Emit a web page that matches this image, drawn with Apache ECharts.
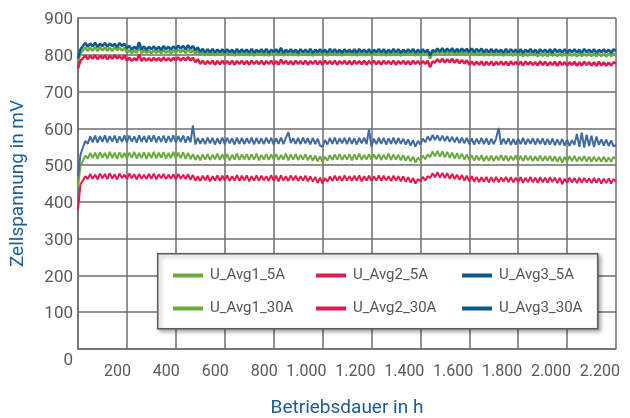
<!DOCTYPE html>
<html>
<head>
<meta charset="utf-8">
<script src="https://cdn.jsdelivr.net/npm/echarts@6/dist/echarts.min.js"></script>
<style>html,body{margin:0;padding:0;background:#fff}#c{width:630px;height:418px}</style>
</head>
<body>
<div id="c"></div>
<script>
const hours = [
0,10,20,30,40,50,60,70,80,90,
100,110,120,130,140,150,160,170,180,190,
200,210,220,230,240,250,260,270,280,290,
300,310,320,330,340,350,360,370,380,390,
400,410,420,430,440,450,460,470,480,490,
500,510,520,530,540,550,560,570,580,590,
600,610,620,630,640,650,660,670,680,690,
700,710,720,730,740,750,760,770,780,790,
800,810,820,830,840,850,860,870,880,890,
900,910,920,930,940,950,960,970,980,990,
1000,1010,1020,1030,1040,1050,1060,1070,1080,1090,
1100,1110,1120,1130,1140,1150,1160,1170,1180,1190,
1200,1210,1220,1230,1240,1250,1260,1270,1280,1290,
1300,1310,1320,1330,1340,1350,1360,1370,1380,1390,
1400,1410,1420,1430,1440,1450,1460,1470,1480,1490,
1500,1510,1520,1530,1540,1550,1560,1570,1580,1590,
1600,1610,1620,1630,1640,1650,1660,1670,1680,1690,
1700,1710,1720,1730,1740,1750,1760,1770,1780,1790,
1800,1810,1820,1830,1840,1850,1860,1870,1880,1890,
1900,1910,1920,1930,1940,1950,1960,1970,1980,1990,
2000,2010,2020,2030,2040,2050,2060,2070,2080,2090,
2100,2110,2120,2130,2140,2150,2160,2170,2180,2190,
2200];

const uAvg1_5A = [
782,804,812,820,810,819,811,821,810,820,
812,820,811,819,810,821,812,820,811,819,
806,813,804,812,805,822,804,813,805,812,
804,813,805,812,804,814,805,812,804,813,
806,814,807,813,805,815,806,813,803,810,
799,807,798,806,799,807,798,806,799,807,
798,806,799,807,797,806,798,807,799,806,
798,807,797,806,799,807,798,806,797,806,
799,807,798,809,797,806,799,807,798,806,
797,806,799,807,798,806,797,807,799,806,
798,806,797,807,799,806,798,807,797,806,
799,807,798,806,797,807,799,806,798,807,
797,806,799,807,798,806,797,807,798,806,
799,806,797,807,798,806,799,807,797,806,
798,806,799,806,790,805,801,809,802,810,
801,809,802,810,800,808,801,809,800,808,
799,807,798,806,799,807,797,806,798,806,
797,806,798,805,797,806,798,805,797,806,
798,805,796,805,797,806,798,805,796,805,
797,805,796,806,797,804,796,805,797,804,
796,805,797,804,795,805,796,804,797,805,
796,804,795,805,796,804,795,803,796,804,
799];

const uAvg2_5A = [
762,784,790,798,788,797,789,799,788,797,
790,798,788,797,789,799,790,797,788,798,
784,792,783,791,784,801,783,792,784,791,
783,792,784,791,783,793,784,791,783,792,
785,793,784,792,785,794,784,792,780,788,
775,784,774,783,775,784,773,783,774,784,
775,783,774,784,773,783,775,784,774,783,
773,784,775,783,774,784,773,783,775,784,
774,783,773,787,775,784,774,783,773,784,
775,783,774,784,773,783,775,784,774,783,
773,784,775,783,774,784,773,783,775,784,
774,783,773,784,775,783,774,784,773,783,
775,784,774,783,773,784,775,783,774,784,
773,783,775,784,774,783,773,784,775,783,
774,783,775,784,766,782,779,788,780,789,
779,788,780,789,778,787,777,786,776,785,
773,782,772,781,773,782,771,781,772,782,
771,781,773,782,772,781,771,782,773,781,
772,781,771,782,773,781,772,780,771,782,
772,781,771,780,772,781,770,781,772,780,
771,780,772,781,770,780,771,781,772,780,
771,780,770,781,771,780,770,779,771,780,
776];

const uAvg3_5A = [
790,815,824,832,822,831,823,833,821,830,
824,832,822,831,823,830,821,832,824,830,
818,824,814,822,815,834,814,823,813,822,
815,823,814,822,813,824,815,822,814,823,
816,825,817,824,815,826,816,824,812,820,
808,816,806,815,807,816,806,814,807,815,
806,815,807,814,805,816,806,815,807,814,
806,816,805,814,807,815,806,816,805,814,
807,815,806,819,805,814,807,815,806,814,
805,815,807,814,806,816,805,814,807,815,
806,814,805,816,807,815,806,814,805,815,
807,814,806,815,805,816,807,814,806,815,
805,814,807,816,806,815,805,814,806,816,
807,815,805,814,806,815,807,816,805,814,
806,815,807,814,798,813,808,817,809,818,
808,817,809,818,807,816,808,817,809,816,
808,817,807,816,808,817,806,815,807,816,
806,815,807,814,805,816,806,815,807,814,
806,815,805,814,807,816,806,814,805,815,
807,814,806,815,805,816,807,814,806,815,
805,814,807,815,806,814,805,816,807,814,
806,815,805,814,807,815,806,814,805,815,
810];

const uAvg1_30A = [
440,498,512,526,518,533,519,534,517,535,
520,533,518,536,519,534,517,535,520,533,
518,534,520,536,518,533,519,535,517,534,
519,536,518,534,520,535,518,533,519,536,
518,534,519,535,517,533,516,530,514,528,
513,529,515,530,514,528,516,531,514,529,
515,530,513,528,515,531,514,529,516,530,
514,529,515,531,513,528,515,530,514,529,
516,530,514,528,515,531,513,529,515,530,
514,528,515,530,513,527,512,526,510,524,
508,523,512,527,514,529,515,530,514,528,
515,530,513,529,515,531,514,528,515,530,
514,529,516,530,514,528,515,531,514,529,
515,528,513,527,512,525,510,523,507,520,
513,526,516,529,522,537,524,539,523,537,
521,536,520,534,518,532,517,531,515,529,
513,527,512,526,513,527,511,525,512,526,
511,525,513,527,512,526,511,525,513,526,
512,525,511,526,513,525,511,524,512,526,
511,524,512,525,510,524,509,523,507,522,
510,524,511,525,510,523,511,524,510,523,
509,523,510,522,509,523,508,521,509,522,
516];

const uAvg2_30A = [
378,448,458,470,462,476,463,474,461,477,
464,476,462,478,463,475,461,477,465,474,
462,477,464,475,461,476,463,474,462,476,
463,477,461,475,464,476,462,474,463,475,
461,476,463,474,462,475,460,473,458,470,
457,471,459,472,456,470,458,472,457,471,
459,472,457,470,458,473,457,471,459,472,
456,470,458,472,457,471,459,470,457,472,
458,471,456,472,458,470,457,472,459,471,
457,470,458,471,456,469,455,468,452,466,
450,465,455,469,457,471,458,470,457,472,
458,470,457,471,458,472,456,470,458,471,
457,470,458,472,457,471,459,470,457,471,
458,470,456,469,455,467,453,465,450,462,
456,468,458,470,465,478,467,481,466,479,
465,478,463,476,462,474,460,473,458,471,
456,470,455,468,454,467,455,468,453,467,
454,468,453,466,455,468,454,467,453,466,
454,467,452,466,454,468,453,466,452,467,
453,466,452,467,454,466,451,465,448,463,
452,466,453,465,451,466,452,465,453,464,
451,465,452,464,450,463,451,464,450,462,
455];

const uAvg3_30A = [
470,528,548,566,558,578,562,580,561,579,
563,581,562,579,564,580,561,578,563,581,
562,580,564,578,561,581,563,579,562,580,
564,581,562,578,563,580,561,579,563,581,
562,579,563,580,561,578,562,608,556,574,
558,573,557,575,559,574,556,573,558,575,
557,574,559,573,556,575,558,574,557,573,
559,575,556,574,558,573,557,575,559,574,
556,573,558,575,557,574,590,560,573,558,
574,557,575,559,573,556,574,557,572,553,
550,568,556,574,558,575,557,573,559,574,
557,575,558,573,556,574,559,575,557,597,
550,572,557,575,558,574,556,573,558,575,
557,574,558,572,556,570,553,568,550,566,
556,572,562,578,566,582,568,581,566,580,
565,579,563,577,562,576,560,575,559,574,
557,573,556,572,558,574,557,573,556,572,
557,573,601,556,572,557,573,555,571,556,
572,557,574,556,571,558,573,556,572,557,
573,555,571,556,572,554,570,555,571,553,
569,552,568,555,585,550,588,548,583,552,
580,549,578,555,570,553,569,552,567,551,
555];

const seriesNames = ['U_Avg1_5A','U_Avg2_5A','U_Avg3_5A','U_Avg1_30A','U_Avg2_30A','U_Avg3_30A'];
const xTickLabels = ['','200','400','600','800','1.000','1.200','1.400','1.600','1.800','2.000','2.200'];
const yTickLabels = ['0','100','200','300','400','500','600','700','800','900'];

const GREEN = '#6aab3e', RED = '#e2184e', BLUE = '#0b5890', BLUE2 = '#3f6b9f';
const FONT = 'Roboto';
const GRIDC = '#6e6e6e';

function pairs(vals){ return hours.map((h,i)=>[h, vals[i]]); }

const lineDefs = [
  [seriesNames[0], uAvg1_5A, GREEN, GREEN, 2.5],
  [seriesNames[1], uAvg2_5A, RED, RED, 2.5],
  [seriesNames[2], uAvg3_5A, BLUE, BLUE, 2.5],
  [seriesNames[3], uAvg1_30A, GREEN, GREEN, 2],
  [seriesNames[4], uAvg2_30A, RED, RED, 2],
  [seriesNames[5], uAvg3_30A, BLUE, BLUE2, 2]
];

// legend layout: 3 columns x 2 rows
const legendCols = [173, 316, 462];
const legendRows = [268, 301];
const legendColors = [GREEN, RED, BLUE, GREEN, RED, BLUE];
const legends = seriesNames.map((n, i) => ({
  data: [{name: n, itemStyle: {color: legendColors[i]}}],
  left: legendCols[i % 3], top: legendRows[Math.floor(i / 3)], padding: 0,
  icon: 'rect', itemWidth: 30, itemHeight: 4,
  textStyle: {fontFamily: FONT, fontSize: 15, color: '#555', padding: [0,0,0,2]},
  z: 10
}));

const chart = echarts.init(document.getElementById('c'), null, {renderer:'canvas'});
chart.setOption({
  animation: false,
  backgroundColor: '#fff',
  grid: {left: 78, right: 14, top: 18, bottom: 69, containLabel: false, outerBoundsMode: 'none'},
  xAxis: {
    type: 'value', min: 0, max: 2200, interval: 200,
    name: 'Betriebsdauer in h', nameLocation: 'middle', nameGap: 50,
    nameTextStyle: {fontFamily: FONT, fontSize: 19, color: '#1b5e94'},
    axisLine: {show: true, lineStyle: {color: GRIDC, width: 1.5}},
    axisTick: {show: false},
    splitLine: {show: true, lineStyle: {color: GRIDC, width: 1.5}},
    axisLabel: {
      fontFamily: FONT, fontSize: 16, color: '#595959', margin: 15,
      align: 'right', padding: [0,-4,0,0],
      formatter: v => xTickLabels[Math.round(v/200)]
    }
  },
  yAxis: {
    type: 'value', min: 0, max: 900, interval: 100,
    name: 'Zellspannung in mV', nameLocation: 'middle', nameGap: 50,
    nameTextStyle: {fontFamily: FONT, fontSize: 19, color: '#1b5e94'},
    axisLine: {show: true, lineStyle: {color: GRIDC, width: 1.5}},
    axisTick: {show: false},
    splitLine: {show: true, lineStyle: {color: GRIDC, width: 1.5}},
    axisLabel: {
      fontFamily: FONT, fontSize: 17, color: '#595959', margin: 5,
      padding: [4,0,0,0],
      formatter: v => v === 0 ? '{z|' + yTickLabels[0] + '}' : yTickLabels[Math.round(v/100)],
      rich: {z: {fontFamily: FONT, fontSize: 17, color: '#595959', padding: [20,0,0,0]}}
    }
  },
  graphic: [{
    type: 'rect', left: 157, top: 253, z: 5,
    shape: {width: 440, height: 75},
    style: {fill: '#fff', stroke: '#5a5a5a', lineWidth: 1.5,
      shadowBlur: 4, shadowOffsetX: 2, shadowOffsetY: 2, shadowColor: 'rgba(0,0,0,0.35)'}
  }],
  legend: legends,
  series: lineDefs.map(d => ({
    name: d[0], type: 'line', data: pairs(d[1]),
    showSymbol: false, symbol: 'none',
    itemStyle: {color: d[2]},
    lineStyle: {color: d[3], width: d[4]},
    z: 2
  }))
});
</script>
</body>
</html>
